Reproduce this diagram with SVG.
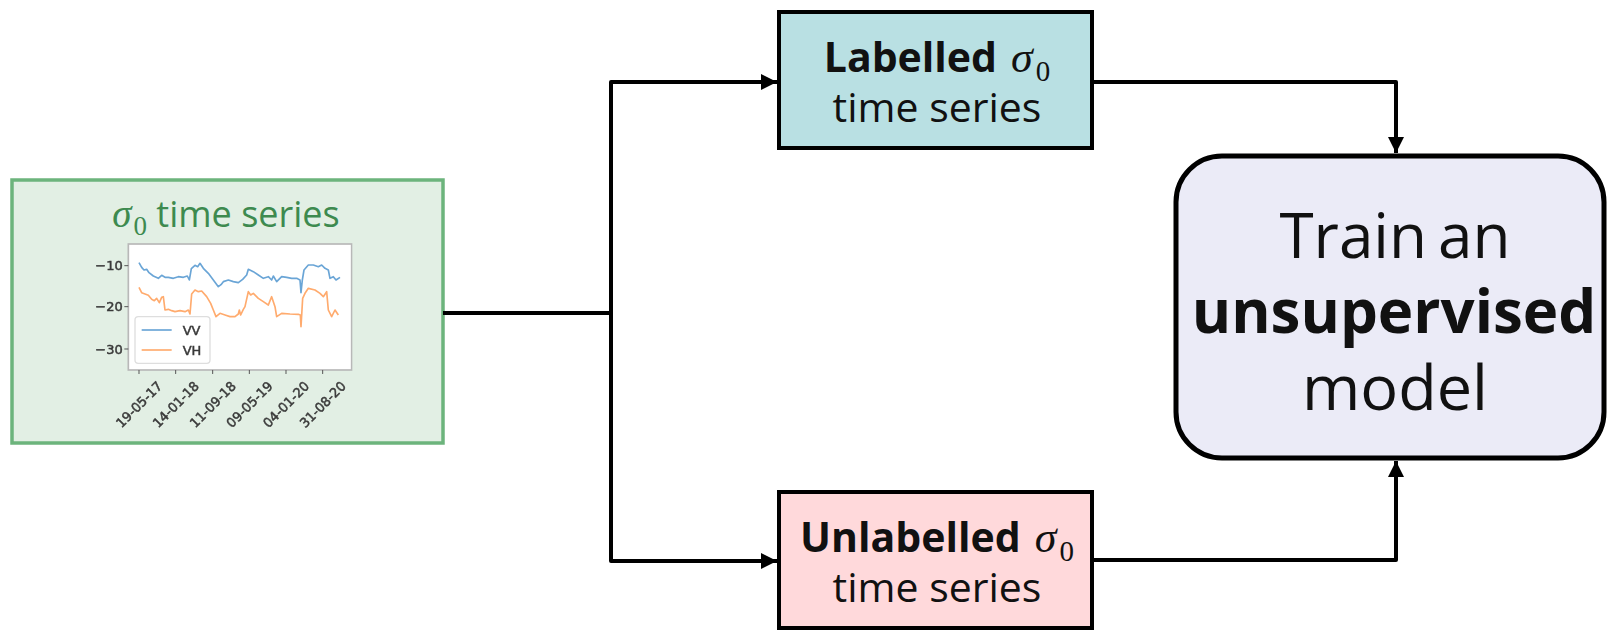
<svg xmlns="http://www.w3.org/2000/svg" width="1608" height="631" viewBox="0 0 1608 631">
  <defs>
    <marker id="arrow" viewBox="0 0 16 16" refX="16" refY="8" markerWidth="16" markerHeight="16" markerUnits="userSpaceOnUse" orient="auto">
      <path d="M0,0 L16,8 L0,16 Z" fill="#000"/>
    </marker>
    <filter id="soft" x="-5%" y="-5%" width="110%" height="110%">
      <feGaussianBlur stdDeviation="1.2"/>
    </filter>
    <style>
      .txt { font-family: "Open Sans", "Noto Sans", sans-serif; fill: #111; }
      .bold { font-weight: 700; }
      .sigma { font-family: "Liberation Serif", serif; font-style: italic; }
      .sub { font-family: "Liberation Serif", serif; font-style: normal; }
      .tick { font-family: "DejaVu Sans", sans-serif; font-size: 39px; fill: #3a3a3a; stroke: #3a3a3a; stroke-width: 1.5; }
      .conn { fill: none; stroke: #000; stroke-width: 4; stroke-linejoin: round; }
      .box { stroke: #000; stroke-width: 4; }
    </style>
  </defs>

  <rect width="1608" height="631" fill="#fff"/>

  <!-- input: sigma_0 time series with embedded plot -->
  <g id="input-series">
    <rect x="12" y="180" width="431" height="263" fill="#e2efe4" stroke="#6cb47c" stroke-width="3.5"/>
    <text class="txt" x="226" y="227" font-size="36" text-anchor="middle" style="fill:#3d8a4f"><tspan class="sigma" font-size="39">σ</tspan><tspan class="sub" font-size="27" dx="2" dy="8">0</tspan><tspan dy="-8"> time series</tspan></text>
    <!-- plot drawn in a 3x coordinate frame -->
    <g transform="translate(0 170) scale(0.33333)" filter="url(#soft)">
      <rect x="385" y="222" width="670" height="378" fill="#fff" stroke="#b8b8b8" stroke-width="5"/>
      <g stroke="#555" stroke-width="3">
        <line x1="373" y1="287" x2="385" y2="287"/>
        <line x1="373" y1="410" x2="385" y2="410"/>
        <line x1="373" y1="537" x2="385" y2="537"/>
        <line x1="417" y1="600" x2="417" y2="612"/>
        <line x1="527" y1="600" x2="527" y2="612"/>
        <line x1="638" y1="600" x2="638" y2="612"/>
        <line x1="748" y1="600" x2="748" y2="612"/>
        <line x1="858" y1="600" x2="858" y2="612"/>
        <line x1="968" y1="600" x2="968" y2="612"/>
      </g>
      <text class="tick" x="368" y="301" text-anchor="end">−10</text>
      <text class="tick" x="368" y="424" text-anchor="end">−20</text>
      <text class="tick" x="368" y="551" text-anchor="end">−30</text>
      <g class="tick" text-anchor="middle">
        <text transform="translate(417 703) rotate(-45)" dy="14">19-05-17</text>
        <text transform="translate(527 703) rotate(-45)" dy="14">14-01-18</text>
        <text transform="translate(638 703) rotate(-45)" dy="14">11-09-18</text>
        <text transform="translate(748 703) rotate(-45)" dy="14">09-05-19</text>
        <text transform="translate(858 703) rotate(-45)" dy="14">04-01-20</text>
        <text transform="translate(968 703) rotate(-45)" dy="14">31-08-20</text>
      </g>
      <path fill="none" stroke="#6aa5d6" stroke-width="5" stroke-linejoin="round" d="M417,278 L425,292 L432,300 L440,298 L447,308 L460,318 L475,325 L485,316 L495,322 L505,322 L520,325 L535,320 L550,322 L562,318 L568,330 L574,296 L585,286 L593,290 L600,280 L610,295 L625,310 L640,330 L655,350 L663,344 L670,335 L685,330 L700,335 L715,338 L728,328 L740,315 L745,298 L760,305 L775,315 L790,325 L805,320 L815,330 L820,318 L830,335 L845,320 L860,322 L875,325 L890,325 L900,330 L903,368 L907,330 L912,300 L925,285 L940,285 L955,290 L965,285 L975,295 L985,300 L990,325 L1000,320 L1008,330 L1020,322"/>
      <path fill="none" stroke="#ffab6e" stroke-width="5" stroke-linejoin="round" d="M417,352 L425,368 L435,372 L445,376 L455,388 L463,392 L470,385 L478,398 L485,382 L490,380 L495,420 L505,418 L515,422 L525,425 L540,422 L555,425 L565,420 L570,432 L575,372 L585,360 L595,365 L605,363 L620,380 L632,400 L640,420 L648,440 L660,430 L675,435 L690,440 L705,440 L715,432 L718,420 L722,435 L730,418 L735,410 L745,365 L752,375 L760,370 L775,385 L790,395 L805,405 L815,380 L825,410 L830,440 L845,430 L870,432 L895,433 L901,435 L903,470 L908,385 L915,370 L925,355 L945,360 L960,370 L970,380 L980,365 L985,420 L995,440 L1005,420 L1015,435"/>
      <rect x="405" y="440" width="225" height="140" rx="10" fill="#fff" fill-opacity="0.85" stroke="#dedede" stroke-width="4"/>
      <line x1="425" y1="480" x2="515" y2="480" stroke="#6aa5d6" stroke-width="5"/>
      <line x1="425" y1="540" x2="515" y2="540" stroke="#ffab6e" stroke-width="5"/>
      <text class="tick" x="548" y="495">VV</text>
      <text class="tick" x="548" y="555">VH</text>
    </g>
  </g>

  <!-- labelled branch -->
  <g id="labelled">
    <rect class="box" x="779" y="12" width="313" height="136" fill="#b9e0e3"/>
    <text class="txt" x="937" y="72" font-size="41" text-anchor="middle"><tspan class="bold">Labelled</tspan><tspan class="sigma" font-size="44" dx="14">σ</tspan><tspan class="sub" font-size="29" dx="3" dy="9">0</tspan></text>
    <text class="txt" x="937" y="122" font-size="41" text-anchor="middle">time series</text>
  </g>

  <!-- unlabelled branch -->
  <g id="unlabelled">
    <rect class="box" x="779" y="492" width="313" height="136" fill="#ffd9db"/>
    <text class="txt" x="937" y="552" font-size="41" text-anchor="middle"><tspan class="bold">Unlabelled</tspan><tspan class="sigma" font-size="44" dx="14">σ</tspan><tspan class="sub" font-size="29" dx="3" dy="9">0</tspan></text>
    <text class="txt" x="937" y="602" font-size="41" text-anchor="middle">time series</text>
  </g>

  <!-- training step -->
  <g id="train">
    <rect x="1176" y="156" width="428" height="302" rx="46" ry="46" fill="#ebebf7" stroke="#000" stroke-width="5"/>
    <text class="txt" x="1395" y="258" font-size="62" text-anchor="middle" word-spacing="-5">Train an</text>
    <text class="txt bold" x="1394" y="333" font-size="60" text-anchor="middle">unsupervised</text>
    <text class="txt" x="1395" y="410" font-size="63" text-anchor="middle">model</text>
  </g>

  <!-- connectors -->
  <g id="connectors">
    <path class="conn" d="M443,313 H611 V82 H777" marker-end="url(#arrow)"/>
    <path class="conn" d="M611,313 V561 H777" marker-end="url(#arrow)"/>
    <path class="conn" d="M1092,82 H1396 V153" marker-end="url(#arrow)"/>
    <path class="conn" d="M1092,560 H1396 V461" marker-end="url(#arrow)"/>
  </g>
</svg>
